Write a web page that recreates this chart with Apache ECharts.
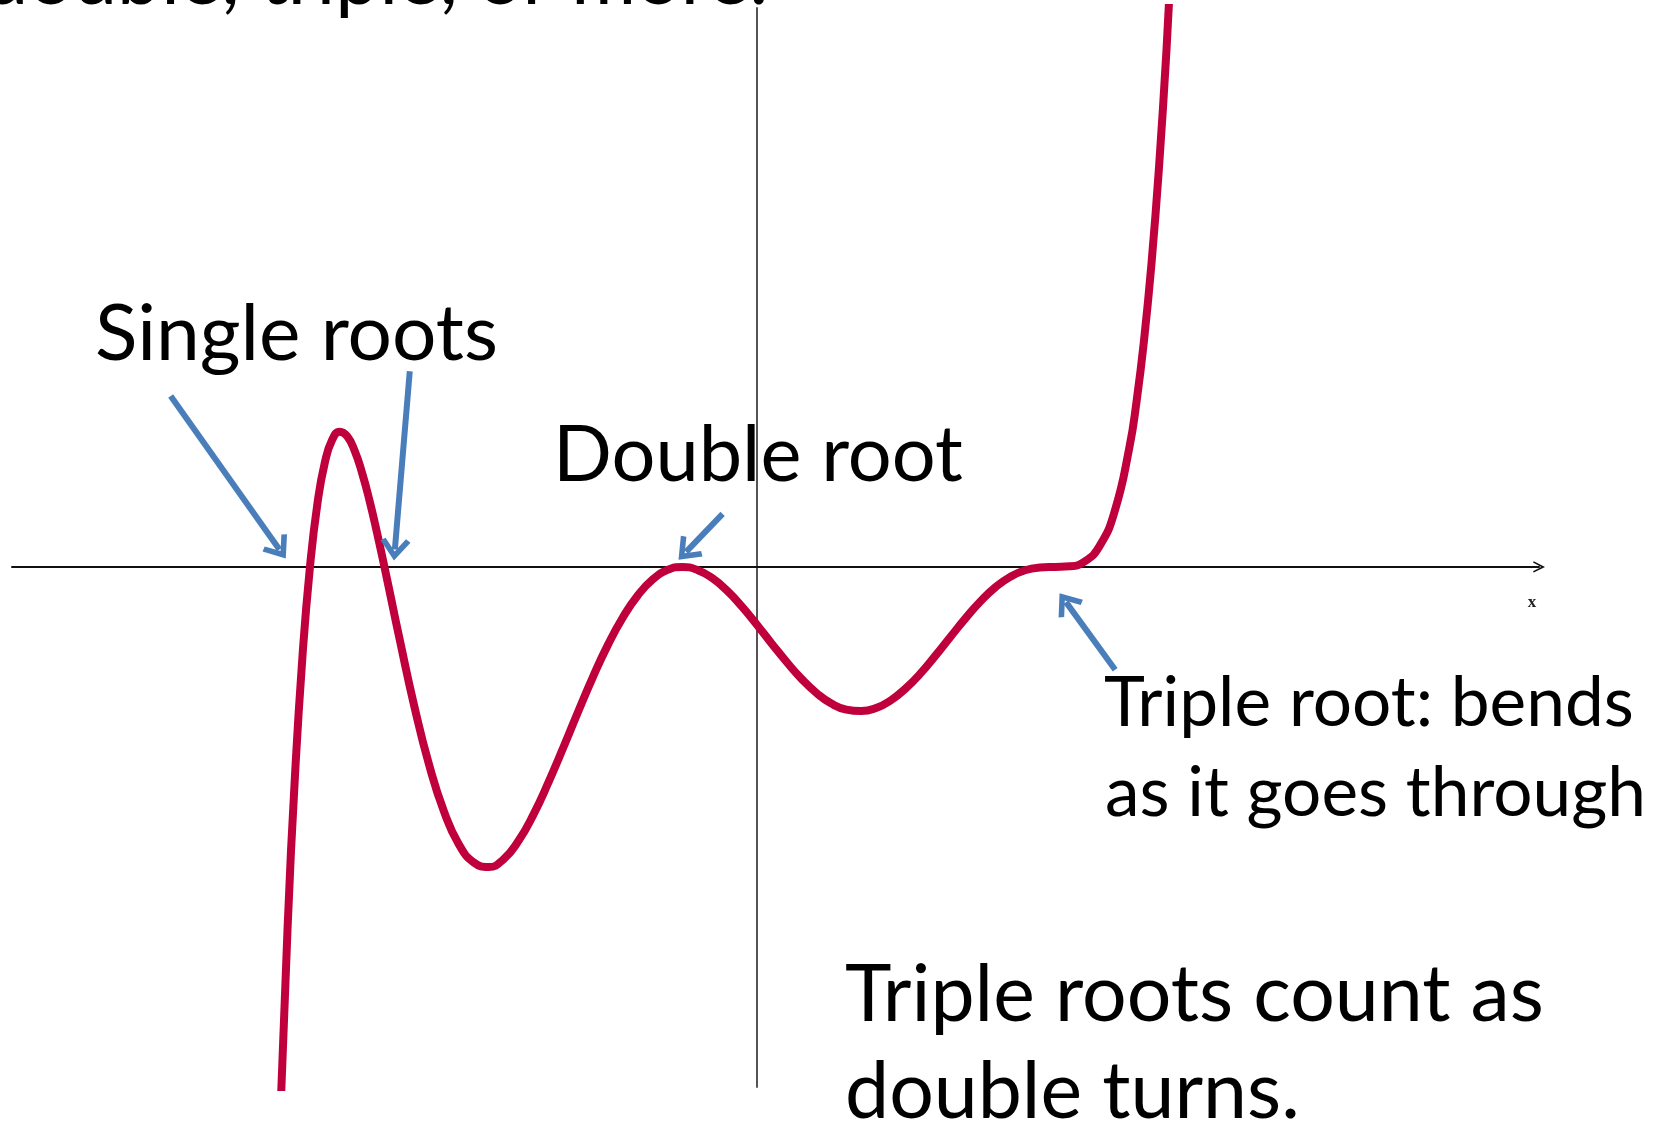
<!DOCTYPE html>
<html>
<head>
<meta charset="utf-8">
<script src="https://cdn.jsdelivr.net/npm/echarts@6/dist/echarts.min.js"></script>
<style>
    html, body {margin: 0; padding: 0; background: #fff;}
    #chart {width: 1656px; height: 1126px;}
</style>
</head>
<body>
<div id="chart"></div>
<script>
// 曲线上读出的点 (x, y)
var xValues = [-6.4, -6.3, -6.2, -6.1, -6.0, -5.9, -5.8, -5.7, -5.6, -5.5, -5.4, -5.3, -5.2, -5.1, -5.0,
    -4.9, -4.8, -4.6, -4.4, -4.2, -4.0, -3.8, -3.6, -3.4, -3.2, -3.0, -2.8, -2.6, -2.4, -2.2, -2.0,
    -1.8, -1.6, -1.4, -1.2, -1.0, -0.8, -0.6, -0.4, -0.2, 0, 0.2, 0.4, 0.6, 0.8, 1.0, 1.2, 1.4, 1.6,
    1.8, 2.0, 2.2, 2.4, 2.6, 2.8, 3.0, 3.2, 3.4, 3.6, 3.8, 4.0, 4.2, 4.4, 4.6, 4.8, 5.0, 5.1, 5.2,
    5.3, 5.4, 5.5, 5.6];
var yValues = [-18.37, -11.97, -6.89, -2.95, 0, 2.10, 3.47, 4.23, 4.49, 4.34, 3.86, 3.12, 2.20, 1.14, 0,
    -1.18, -2.36, -4.62, -6.58, -8.13, -9.22, -9.82, -9.97, -9.71, -9.10, -8.23, -7.17, -6.01, -4.81, -3.65, -2.59,
    -1.68, -0.95, -0.42, -0.10, 0, -0.10, -0.37, -0.79, -1.32, -1.92, -2.55, -3.16, -3.72, -4.19, -4.54, -4.74, -4.79, -4.69,
    -4.43, -4.03, -3.53, -2.94, -2.32, -1.71, -1.15, -0.68, -0.33, -0.11, -0.02, 0, 0.02, 0.18, 0.69, 1.82, 3.96, 5.55, 7.59,
    10.15, 13.33, 17.22, 21.94];

// 箭头: [起点, 终点]
var arrowStarts = [[-7.87, 5.68], [-4.66, 6.50], [-0.46, 1.76], [4.81, -3.42]];
var arrowEnds = [[-6.41, 0.58], [-4.86, 0.58], [-0.95, 0.50], [4.15, -1.17]];

var curveData = xValues.map(function (x, i) {
    return [x, yValues[i]];
});
var arrowData = arrowStarts.map(function (s, i) {
    return [{coord: s}, {coord: arrowEnds[i]}];
});

// 按目标宽度算字号
var measureCtx = document.createElement('canvas').getContext('2d');
function fitSize(txt, width) {
    measureCtx.font = '100px Lato';
    return 100 * width / measureCtx.measureText(txt).width;
}
function label(txt, x, baseline, size, align) {
    return {
        type: 'text',
        x: x,
        y: baseline - size * 0.32,
        style: {
            text: txt,
            fontFamily: 'Lato',
            fontSize: size,
            fill: '#000',
            align: align || 'left',
            verticalAlign: 'middle'
        }
    };
}

var sizeSmall = fitSize('Triple root: bends', 530);
var sizeBig = fitSize('Triple roots count as', 699);

var chart = echarts.init(document.getElementById('chart'));
var option = {
    animation: false,
    grid: {left: 12, right: 117, top: 8, bottom: 39},
    xAxis: {
        type: 'value',
        min: -10,
        max: 10.5,
        axisLine: {
            onZero: true,
            symbol: ['none', 'path://M0,12 L6,0 L12,12 L10.6,12.8 L6,4 L1.4,12.8 Z'],
            symbolSize: [12, 12],
            lineStyle: {color: '#111', width: 2}
        },
        axisTick: {show: false},
        axisLabel: {show: false},
        splitLine: {show: false}
    },
    yAxis: {
        type: 'value',
        min: -17.28,
        max: 18.57,
        axisLine: {onZero: true, lineStyle: {color: '#555', width: 2}},
        axisTick: {show: false},
        axisLabel: {show: false},
        splitLine: {show: false}
    },
    series: [{
        type: 'line',
        data: curveData,
        smooth: true,
        showSymbol: false,
        clip: true,
        lineStyle: {color: '#C0003C', width: 8},
        markLine: {
            silent: true,
            animation: false,
            symbol: ['none', 'path://M0,14 L10,0 L20,14 L16.8,16.2 L10,6.6 L3.2,16.2 Z'],
            symbolSize: [30, 22],
            lineStyle: {color: '#4A7EBB', width: 6, type: 'solid', opacity: 1},
            label: {show: false},
            data: arrowData
        }
    }],
    graphic: [
        label('double, triple, or more.', 768, 4, sizeBig, 'right'),
        label('Single roots', 95, 360, fitSize('Single roots', 403)),
        label('Double root', 553, 481, fitSize('Double root', 410)),
        label('Triple root: bends', 1104, 726, sizeSmall),
        label('as it goes through', 1105, 816, sizeSmall),
        label('Triple roots count as', 845, 1021, sizeBig),
        label('double turns.', 845, 1118, sizeBig),
        {
            type: 'text',
            x: 1532,
            y: 603,
            style: {
                text: 'x',
                fontFamily: 'Liberation Serif',
                fontWeight: 'bold',
                fontSize: 17,
                fill: '#222',
                align: 'center',
                verticalAlign: 'middle'
            }
        }
    ]
};
chart.setOption(option);
</script>
</body>
</html>
